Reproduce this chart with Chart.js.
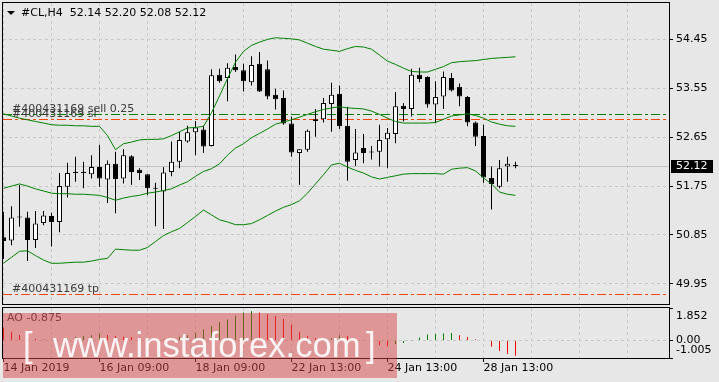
<!DOCTYPE html>
<html>
<head>
<meta charset="utf-8">
<script src="https://cdn.jsdelivr.net/npm/chart.js@4.4.1/dist/chart.umd.min.js"></script>
<style>
  html, body { margin: 0; padding: 0; background: #e7e7e7; }
  #wrap { position: relative; width: 719px; height: 382px; overflow: hidden; font-family: "DejaVu Sans", sans-serif; }
  canvas { position: absolute; left: 0; }
  #main { top: 0; }
  #ao { top: 305px; }
  .txt { position: absolute; font-size: 11px; line-height: 13px; color: #000; white-space: pre; }
  #tri { position: absolute; left: 7px; top: 11px; width: 0; height: 0;
         border-left: 4px solid transparent; border-right: 4px solid transparent; border-top: 4px solid #000; }
  #wm { position: absolute; left: 3px; top: 313px; width: 394px; height: 65px; background: rgba(215, 70, 70, 0.5); }
  #wm span { position: absolute; top: 15px; color: rgba(255, 255, 255, 0.9); white-space: pre;
             font-family: "Liberation Sans", Arial, sans-serif; font-size: 34.6px; line-height: 35px; }
</style>
</head>
<body>
<div id="wrap">
  <canvas id="main" width="719" height="305"></canvas>
  <canvas id="ao" width="719" height="77"></canvas>
  <div id="tri"></div>
  <div class="txt" id="title" style="left:21px; top:6px;"></div>
  <div class="txt" id="aoLabel" style="left:7px; top:311px; color:#333;"></div>
  <div id="wm"><span style="left:20px;">[</span><span style="left:50px;">www.instaforex.com</span><span style="left:363px;">]</span></div>
</div>
<script>
// #CL H4 bars, oldest first
var opens  = [50.81, 50.75, 51.19, 51.17, 50.76, 51.07, 51.20, 51.09, 51.74, 51.99,
              51.99, 51.97, 52.10, 51.87, 52.16, 51.89, 52.30, 52.05, 51.97, 51.70,
              51.65, 52.01, 52.20, 52.57, 52.74, 52.79, 52.49, 53.80, 53.74, 53.94,
              53.88, 53.66, 54.00, 53.90, 53.43, 53.37, 52.90, 52.36, 52.42, 52.98,
              52.98, 53.26, 53.45, 52.86, 52.23, 52.45, 52.37, 52.38, 52.61, 52.71,
              53.23, 53.17, 53.80, 53.76, 53.25, 53.40, 53.74, 53.58, 53.39, 52.92,
              52.67, 51.90, 51.74, 52.11, 52.14];
var highs  = [51.28, 51.38, 51.77, 51.28, 51.29, 51.29, 51.26, 51.99, 52.18, 52.29,
              52.20, 52.32, 52.51, 52.22, 52.38, 52.43, 52.32, 52.08, 51.97, 51.81,
              52.10, 52.57, 52.75, 52.86, 52.95, 52.86, 53.90, 53.91, 54.01, 54.17,
              54.00, 54.14, 54.22, 54.06, 53.54, 53.51, 53.03, 52.43, 52.79, 53.17,
              53.37, 53.65, 53.60, 53.21, 52.80, 52.71, 52.49, 52.88, 52.82, 53.48,
              53.28, 53.91, 53.93, 53.77, 53.68, 53.86, 53.83, 53.64, 53.41, 52.94,
              52.88, 52.11, 52.23, 52.29, 52.20];
var lows   = [50.41, 50.66, 51.00, 50.37, 50.61, 51.03, 50.64, 50.90, 51.54, 51.83,
              51.71, 51.89, 51.74, 51.44, 51.25, 51.80, 51.77, 51.86, 51.58, 51.01,
              50.96, 51.93, 52.08, 52.55, 52.32, 52.36, 52.48, 53.65, 53.31, 53.85,
              53.49, 53.60, 53.48, 53.35, 53.16, 52.88, 52.29, 51.77, 52.38, 52.66,
              52.92, 52.75, 52.80, 51.85, 52.12, 52.17, 52.24, 52.11, 52.08, 52.54,
              52.94, 53.03, 53.66, 53.19, 52.91, 53.17, 53.49, 53.22, 52.85, 52.49,
              51.81, 51.32, 51.71, 51.83, 52.08];
var closes = [50.74, 51.17, 51.17, 50.76, 51.06, 51.21, 51.09, 51.75, 51.99, 51.99,
              51.99, 52.10, 51.89, 52.16, 51.88, 52.32, 52.01, 51.99, 51.71, 51.70,
              52.00, 52.20, 52.60, 52.74, 52.83, 52.48, 53.79, 53.68, 53.93, 53.88,
              53.68, 53.98, 53.49, 53.40, 53.35, 52.90, 52.37, 52.43, 52.77, 52.95,
              53.28, 53.43, 52.85, 52.20, 52.37, 52.36, 52.37, 52.60, 52.73, 53.22,
              53.17, 53.80, 53.72, 53.25, 53.39, 53.76, 53.51, 53.40, 52.92, 52.66,
              51.91, 51.79, 52.08, 52.16, 52.12];

// Bollinger bands
var bbUpper  = [53.08, 53.04, 53.00, 52.97, 52.94, 52.91, 52.88, 52.87, 52.87, 52.86,
                52.86, 52.85, 52.85, 52.68, 52.42, 52.53, 52.56, 52.60, 52.61, 52.61,
                52.62, 52.68, 52.75, 52.82, 52.83, 52.85, 53.10, 53.41, 53.73, 54.03,
                54.23, 54.34, 54.40, 54.45, 54.48, 54.47, 54.46, 54.44, 54.38, 54.32,
                54.27, 54.25, 54.23, 54.28, 54.32, 54.31, 54.27, 54.16, 54.05, 53.99,
                53.92, 53.86, 53.85, 53.85, 53.90, 53.95, 54.02, 54.04, 54.05, 54.06,
                54.08, 54.10, 54.11, 54.12, 54.13];
var bbMiddle = [51.71, 51.75, 51.79, 51.75, 51.70, 51.66, 51.62, 51.61, 51.61, 51.60,
                51.60, 51.59, 51.58, 51.54, 51.49, 51.53, 51.56, 51.58, 51.62, 51.64,
                51.67, 51.70, 51.77, 51.83, 51.93, 52.02, 52.07, 52.16, 52.32, 52.45,
                52.53, 52.64, 52.72, 52.80, 52.89, 52.93, 52.97, 53.02, 53.07, 53.12,
                53.16, 53.19, 53.21, 53.19, 53.18, 53.17, 53.13, 53.07, 53.00, 52.94,
                52.91, 52.91, 52.91, 52.91, 52.92, 52.98, 53.04, 53.06, 53.08, 53.05,
                53.00, 52.93, 52.89, 52.86, 52.85];
var bbLower  = [50.33, 50.44, 50.55, 50.56, 50.47, 50.39, 50.33, 50.33, 50.34, 50.35,
                50.35, 50.37, 50.40, 50.42, 50.59, 50.58, 50.57, 50.57, 50.62, 50.73,
                50.84, 50.91, 50.97, 51.08, 51.19, 51.31, 51.22, 51.13, 51.09, 51.04,
                51.04, 51.06, 51.13, 51.21, 51.29, 51.36, 51.41, 51.48, 51.62, 51.79,
                51.96, 52.14, 52.17, 52.10, 52.04, 51.99, 51.92, 51.88, 51.91, 51.94,
                51.97, 51.98, 51.98, 51.98, 51.98, 51.97, 52.06, 52.08, 52.09, 52.03,
                51.90, 51.79, 51.64, 51.60, 51.58];

// Awesome Oscillator
var aoValues = [0.72, 0.50, 0.31, 0.12, 0.09, 0.05, 0.03, 0.02, 0.11, 0.21,
                0.25, 0.30, 0.40, 0.31, 0.25, 0.21, 0.19, 0.15, 0.08, 0.04,
                0.07, 0.13, 0.21, 0.29, 0.44, 0.64, 0.82, 1.04, 1.20, 1.43,
                1.60, 1.67, 1.60, 1.49, 1.39, 1.22, 0.91, 0.50, 0.25, 0.13,
                0.10, 0.13, 0.29, 0.25, 0.11, 0.03, -0.08, -0.27, -0.33, -0.21,
                -0.15, -0.02, 0.17, 0.34, 0.36, 0.40, 0.42, 0.29, 0.19, 0.07,
                -0.03, -0.36, -0.61, -0.78, -0.875];

var priceTicks = [49.95, 50.85, 51.75, 52.65, 53.55, 54.45];
var aoTicks = [-1.005, 0, 1.852];
var aoTickLabels = ["-1.005", "0.00", "1.852"];
var timeTickBars = [0, 12, 24, 36, 48, 60];
var timeTickLabels = ["14 Jan 2019", "16 Jan 09:00", "18 Jan 09:00", "22 Jan 13:00", "24 Jan 13:00", "28 Jan 13:00"];

var orderLevels = [53.08, 52.99, 49.77];
var orderLabels = ["#400431169 sell 0.25", "#400431169 sl", "#400431169 tp"];

var last = closes.length - 1;
document.getElementById("title").textContent =
  "#CL,H4  " + [opens[last], highs[last], lows[last], closes[last]].map(function (v) { return v.toFixed(2); }).join(" ");
document.getElementById("aoLabel").textContent = "AO " + aoValues[last].toFixed(3);

var xMin = -0.0625, xMax = 83.1875;   // 8px per bar
var gridBars = [];
for (var g = 0; g <= 78; g += 6) gridBars.push(g);
var gridColor = "#c8c8c8";
var tickFont = { family: "DejaVu Sans", size: 11 };

var frame = {
  id: "frame",
  afterDraw: function (chart) {
    var ctx = chart.ctx, a = chart.chartArea;
    ctx.save();
    ctx.strokeStyle = "#000";
    ctx.lineWidth = 1;
    ctx.strokeRect(a.left - 0.5, a.top - 0.5, a.right - a.left + 1, a.bottom - a.top + 1);
    ctx.restore();
  }
};

// bid line, order lines and their labels, price box
var levels = {
  id: "levels",
  beforeDatasetsDraw: function (chart) {
    var ctx = chart.ctx, a = chart.chartArea, y = chart.scales.y;
    ctx.save();
    ctx.beginPath();
    ctx.rect(a.left, a.top, a.right - a.left, a.bottom - a.top);
    ctx.clip();
    ctx.lineWidth = 1;
    var py = Math.round(y.getPixelForValue(closes[last])) + 0.5;
    ctx.strokeStyle = "#c4c4c4";
    ctx.beginPath(); ctx.moveTo(a.left, py); ctx.lineTo(a.right, py); ctx.stroke();
    ctx.setLineDash([9, 3, 3, 3]);
    orderLevels.forEach(function (v, k) {
      var yy = Math.round(y.getPixelForValue(v)) + 0.5;
      ctx.strokeStyle = k === 0 ? "#008000" : "#ff4500";
      ctx.beginPath(); ctx.moveTo(a.left, yy); ctx.lineTo(a.right, yy); ctx.stroke();
    });
    ctx.restore();
  },
  afterDatasetsDraw: function (chart) {
    var ctx = chart.ctx, a = chart.chartArea, y = chart.scales.y;
    ctx.save();
    ctx.font = '11px "DejaVu Sans"';
    ctx.fillStyle = "#3a3a3a";
    ctx.textBaseline = "alphabetic";
    orderLevels.forEach(function (v, k) {
      var yy = Math.round(y.getPixelForValue(v));
      ctx.fillText(orderLabels[k], a.left + 9, yy - 2);
    });
    ctx.restore();
  },
  afterDraw: function (chart) {
    var ctx = chart.ctx, a = chart.chartArea, y = chart.scales.y;
    var py = Math.round(y.getPixelForValue(closes[last]));
    ctx.save();
    ctx.fillStyle = "#000";
    ctx.fillRect(a.right + 2, py - 6, 42, 13);
    ctx.fillStyle = "#fff";
    ctx.font = '11px "DejaVu Sans"';
    ctx.textBaseline = "middle";
    ctx.fillText(closes[last].toFixed(2), a.right + 7, py + 0.5);
    ctx.restore();
  }
};

function bandSet(values) {
  return {
    type: "line",
    data: values.map(function (v, i) { return { x: i, y: v }; }),
    borderColor: "#008000",
    borderWidth: 1,
    pointRadius: 0,
    tension: 0,
    order: 1
  };
}

new Chart(document.getElementById("main"), {
  type: "bar",
  data: {
    datasets: [
      bandSet(bbUpper),
      bandSet(bbMiddle),
      bandSet(bbLower),
      {
        data: opens.map(function (o, i) { return { x: i, y: [o, closes[i]] }; }),
        backgroundColor: closes.map(function (c, i) { return c > opens[i] ? "#ffffff" : "#000000"; }),
        borderColor: "#000",
        borderWidth: 1,
        borderSkipped: false,
        barThickness: 5,
        minBarLength: 1,
        inflateAmount: 0,
        grouped: false,
        order: 2
      },
      {
        data: lows.map(function (l, i) { return { x: i, y: [l, highs[i]] }; }),
        backgroundColor: "#000",
        borderWidth: 0,
        barThickness: 1,
        inflateAmount: 0,
        grouped: false,
        order: 3
      }
    ]
  },
  options: {
    responsive: false,
    animation: false,
    events: [],
    layout: { padding: { left: 3, top: 3, right: 0, bottom: 1 } },
    plugins: { legend: { display: false }, tooltip: { enabled: false } },
    scales: {
      x: {
        type: "linear", min: xMin, max: xMax, offset: false,
        afterBuildTicks: function (s) { s.ticks = gridBars.map(function (v) { return { value: v }; }); },
        afterFit: function (s) { s.height = 0; s.paddingLeft = 0; s.paddingRight = 0; },
        ticks: { display: false },
        grid: { color: gridColor, offset: false, drawTicks: false },
        border: { display: false, dash: [3, 3] }
      },
      y: {
        position: "right", min: 49.58, max: 55.12,
        afterBuildTicks: function (s) { s.ticks = priceTicks.map(function (v) { return { value: v }; }); },
        afterFit: function (s) { s.width = 50; s.paddingTop = 0; s.paddingBottom = 0; },
        ticks: { autoSkip: false, color: "#000", font: tickFont, padding: 3, callback: function (v) { return v.toFixed(2); } },
        grid: { color: gridColor, tickColor: "#000", tickLength: 4, tickBorderDash: [] },
        border: { display: false, dash: [3, 3] }
      }
    }
  },
  plugins: [levels, frame]
});

new Chart(document.getElementById("ao"), {
  type: "bar",
  data: {
    datasets: [{
      data: aoValues.map(function (v, i) { return { x: i, y: v }; }),
      backgroundColor: aoValues.map(function (v, i) { return i > 0 && v > aoValues[i - 1] ? "#008000" : "#ff0000"; }),
      borderWidth: 0,
      barThickness: 1,
      inflateAmount: 0,
      grouped: false
    }]
  },
  options: {
    responsive: false,
    animation: false,
    events: [],
    layout: { padding: { left: 3, top: 3, right: 0, bottom: 0 } },
    plugins: { legend: { display: false }, tooltip: { enabled: false } },
    scales: {
      x: {
        type: "linear", min: xMin, max: xMax, offset: false,
        afterBuildTicks: function (s) { s.ticks = gridBars.map(function (v) { return { value: v }; }); },
        afterFit: function (s) { s.height = 24; s.paddingLeft = 0; s.paddingRight = 0; },
        ticks: {
          autoSkip: false, maxRotation: 0, minRotation: 0, align: "start", padding: 0,
          color: "#000", font: tickFont,
          callback: function (v) { var k = timeTickBars.indexOf(v); return k >= 0 ? timeTickLabels[k] : ""; }
        },
        grid: {
          color: gridColor, offset: false, tickLength: 4, tickBorderDash: [],
          tickColor: function (c) { return c.tick && timeTickBars.indexOf(c.tick.value) >= 0 ? "#000" : "rgba(0,0,0,0)"; }
        },
        border: { display: false, dash: [3, 3] }
      },
      y: {
        position: "right", min: aoTicks[0], max: aoTicks[2],
        afterBuildTicks: function (s) { s.ticks = aoTicks.map(function (v) { return { value: v }; }); },
        afterFit: function (s) { s.width = 50; s.paddingTop = 0; s.paddingBottom = 0; },
        ticks: {
          autoSkip: false,
          color: "#000", font: { family: "DejaVu Sans", size: 11, lineHeight: 1.4 }, padding: 3,
          callback: function (v) {
            var k = aoTicks.indexOf(v);
            if (k === 2) return ["", aoTickLabels[k]];
            if (k === 0) return [aoTickLabels[k], ""];
            return aoTickLabels[k];
          }
        },
        grid: {
          color: function (c) { return c.tick && c.tick.value === 0 ? gridColor : "rgba(0,0,0,0)"; },
          tickColor: "#000", tickLength: 4, tickBorderDash: []
        },
        border: { display: false, dash: [3, 3] }
      }
    }
  },
  plugins: [frame]
});
</script>
</body>
</html>
